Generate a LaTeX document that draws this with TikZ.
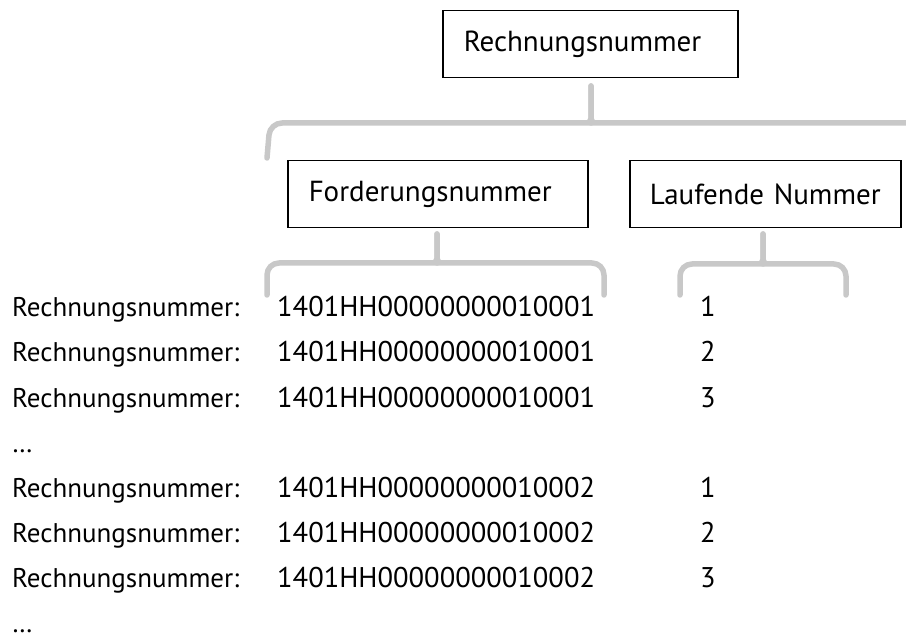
\documentclass[tikz,border=0pt]{standalone}
\usepackage{fontspec}
\setmainfont{PT Sans}
\definecolor{bracegray}{RGB}{200,200,200}
\tikzset{
  titlebox/.style={draw,line width=1.5pt,minimum height=67pt,inner xsep=21pt,align=left,anchor=north west,font=\fontsize{29}{31}\selectfont},
  brace line/.style={draw=bracegray,line width=5.5pt,line cap=round,line join=round,rounded corners=12pt},
  rowtext/.style={anchor=base west,inner sep=0pt,font=\fontsize{27}{30}\selectfont},
  numtext/.style={rowtext,font=\fontsize{28.5}{30}\selectfont}
}

\begin{document}
\begin{tikzpicture}[x=1pt,y=-1pt]
      \clip (0,0) rectangle (906,639);
      \node[titlebox,text width=253pt] (rechnr) at (442,10) {Rechnungsnummer};
      \node[titlebox,text width=258pt] (fordnr) at (287,160) {Forderungsnummer};
      \node[titlebox,inner xsep=12pt,text width=247pt,align=center] (lfdnr) at (629,160) {Laufende Nummer};
      % braces
      \draw[brace line] (267,158) -- (270,123) -- (579,123) .. controls (588,123) and (591,118) .. (591,108) -- (591,86);
      \draw[brace line] (591,86) -- (591,108) .. controls (591,118) and (594,123) .. (603,123) -- (930,123);
      \draw[brace line] (267,295) -- (267,263) -- (425,263) .. controls (434,263) and (437,258) .. (437,248) -- (437,234);
      \draw[brace line] (437,234) -- (437,248) .. controls (437,258) and (440,263) .. (449,263) -- (604,263) -- (604,295);
      \draw[brace line] (680,295) -- (680,264) -- (751,264) .. controls (760,264) and (763,259) .. (763,249) -- (763,234);
      \draw[brace line] (763,234) -- (763,249) .. controls (763,259) and (766,264) .. (775,264) -- (846,264) -- (846,295);
      % rows
      \node[rowtext] (rowa) at (12,317) {Rechnungsnummer:};
      \node[numtext] (fnra) at (277,317) {1401HH00000000010001};
      \node[numtext] (lnra) at (700,317) {1};
      \node[rowtext] (rowb) at (12,362) {Rechnungsnummer:};
      \node[numtext] (fnrb) at (277,362) {1401HH00000000010001};
      \node[numtext] (lnrb) at (700,362) {2};
      \node[rowtext] (rowc) at (12,407) {Rechnungsnummer:};
      \node[numtext] (fnrc) at (277,407) {1401HH00000000010001};
      \node[numtext] (lnrc) at (700,407) {3};
      \node[rowtext] (dotsa) at (12,452) {\dots};
      \node[rowtext] (rowd) at (12,497) {Rechnungsnummer:};
      \node[numtext] (fnrd) at (277,497) {1401HH00000000010002};
      \node[numtext] (lnrd) at (700,497) {1};
      \node[rowtext] (rowe) at (12,542) {Rechnungsnummer:};
      \node[numtext] (fnre) at (277,542) {1401HH00000000010002};
      \node[numtext] (lnre) at (700,542) {2};
      \node[rowtext] (rowf) at (12,587) {Rechnungsnummer:};
      \node[numtext] (fnrf) at (277,587) {1401HH00000000010002};
      \node[numtext] (lnrf) at (700,587) {3};
      \node[rowtext] (dotsb) at (12,632) {\dots};
    \end{tikzpicture}
\end{document}
